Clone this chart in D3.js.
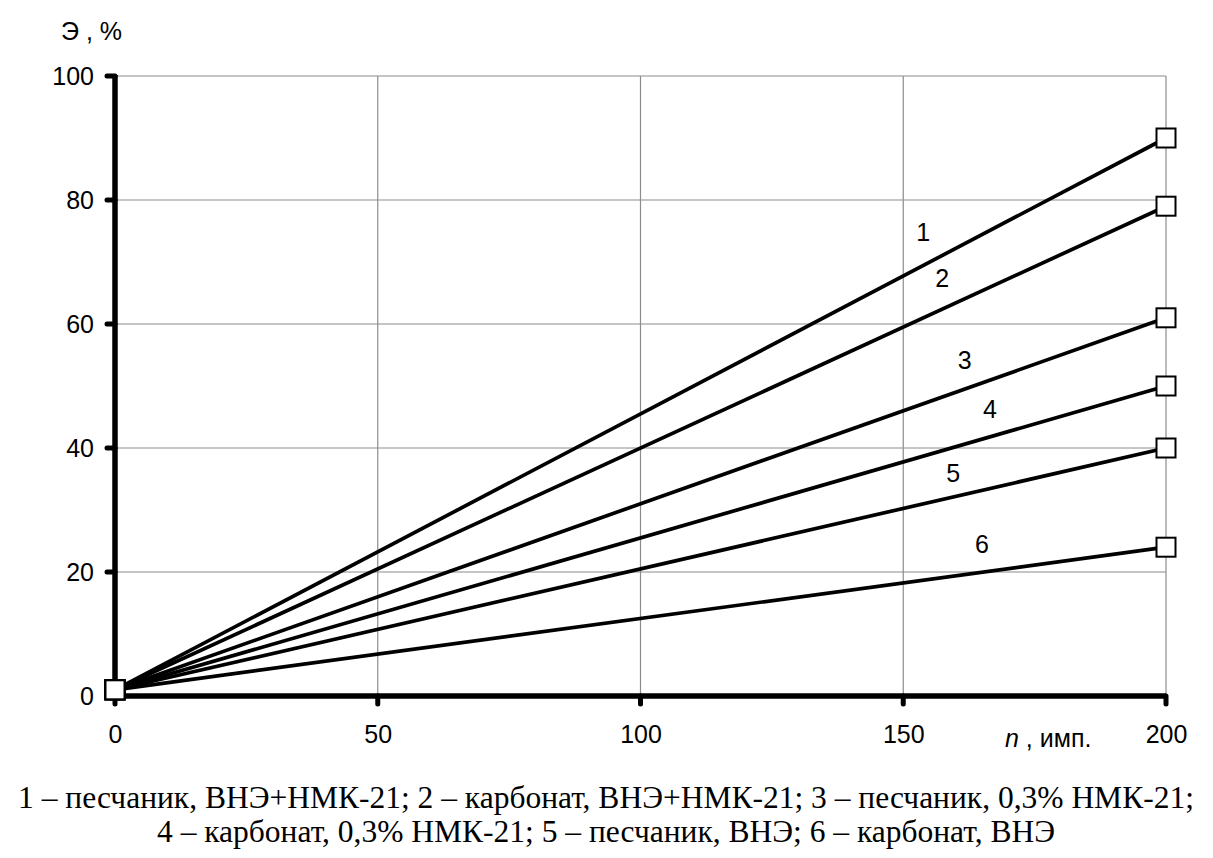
<!DOCTYPE html>
<html><head><meta charset="utf-8">
<script src="https://cdn.jsdelivr.net/npm/d3@7"></script>
<style>body{margin:0;background:#fff}svg{display:block}</style>
</head><body>
<svg id="c" width="1213" height="858"></svg>
<script>
const xTicks = [0, 50, 100, 150, 200];
const yTicks = [0, 20, 40, 60, 80, 100];
const seriesNames = ["1", "2", "3", "4", "5", "6"];
const xValues = [0, 200];
const s1 = [1, 90];
const s2 = [1, 79];
const s3 = [1, 61];
const s4 = [1, 50];
const s5 = [1, 40];
const s6 = [1, 24];
const seriesValues = [s1, s2, s3, s4, s5, s6];
// label anchor positions in data units
const labelX = [153.8, 157.4, 161.7, 166.5, 159.5, 165.0];
const labelY = [74.8, 67.4, 54.2, 46.3, 36.0, 24.4];
const caption = [
  "1 – песчаник, ВНЭ+НМК-21; 2 – карбонат, ВНЭ+НМК-21; 3 – песчаник, 0,3% НМК-21;",
  "4 – карбонат, 0,3% НМК-21; 5 – песчаник, ВНЭ; 6 – карбонат, ВНЭ"
];

const svg = d3.select("#c");
const x = d3.scaleLinear().domain([0, 200]).range([115, 1166]);
const y = d3.scaleLinear().domain([0, 100]).range([696, 76]);
const sans = "Liberation Sans, Arial, sans-serif";
const fs = "25px";

// grid
const g = svg.append("g");
g.selectAll(".gy").data(yTicks.filter(d => d > 0)).enter().append("line")
  .attr("x1", x(0)).attr("x2", x(200)).attr("y1", d => y(d)).attr("y2", d => y(d))
  .attr("stroke", "#8c8c8c").attr("stroke-width", 1.2);
g.selectAll(".gx").data(xTicks.filter(d => d > 0)).enter().append("line")
  .attr("y1", y(0)).attr("y2", y(100)).attr("x1", d => x(d)).attr("x2", d => x(d))
  .attr("stroke", "#8c8c8c").attr("stroke-width", 1.2);

// axes
const xAxis = d3.axisBottom(x).tickValues(xTicks).tickSize(0).tickPadding(0).tickFormat(d3.format("d"));
const yAxis = d3.axisLeft(y).tickValues(yTicks).tickSize(0).tickPadding(0).tickFormat(d3.format("d"));
const ax = svg.append("g").attr("transform", `translate(0,${y(0)})`).call(xAxis);
ax.select(".domain").remove();
ax.selectAll("text").attr("y", 38).attr("dy", "0.35em").style("font-family", sans).style("font-size", fs).attr("fill", "#000");
const ay = svg.append("g").attr("transform", `translate(${x(0)},0)`).call(yAxis);
ay.select(".domain").remove();
ay.selectAll("text").attr("x", -21).attr("dy", "0.35em").style("font-family", sans).style("font-size", fs).attr("fill", "#000");

// tick stubs
svg.selectAll(".tx").data(xTicks).enter().append("line")
  .attr("x1", d => x(d)).attr("x2", d => x(d)).attr("y1", y(0)).attr("y2", y(0) + 8)
  .attr("stroke", "#000").attr("stroke-width", 5).attr("stroke-linecap", "round");
svg.selectAll(".ty").data(yTicks).enter().append("line")
  .attr("y1", d => y(d)).attr("y2", d => y(d)).attr("x1", x(0)).attr("x2", x(0) - 8)
  .attr("stroke", "#000").attr("stroke-width", 5).attr("stroke-linecap", "round");

// axis lines
svg.append("line").attr("x1", x(0)).attr("x2", x(0)).attr("y1", y(100) - 1).attr("y2", y(0))
  .attr("stroke", "#000").attr("stroke-width", 5.5);
svg.append("line").attr("x1", x(0)).attr("x2", x(200)).attr("y1", y(0)).attr("y2", y(0))
  .attr("stroke", "#000").attr("stroke-width", 5.5);

// series lines
const line = d3.line().x((d, i) => x(xValues[i])).y(d => y(d));
svg.selectAll(".s").data(seriesValues).enter().append("path")
  .attr("d", d => line(d)).attr("fill", "none").attr("stroke", "#000").attr("stroke-width", 3.7);

// markers
const pts = [];
seriesValues.forEach(s => s.forEach((v, i) => pts.push([xValues[i], v])));
svg.selectAll(".m").data(pts).enter().append("rect")
  .attr("x", d => x(d[0]) - 9.5).attr("y", d => y(d[1]) - 9.5).attr("width", 19).attr("height", 19)
  .attr("fill", "#fff").attr("stroke", "#000").attr("stroke-width", 2);

// series labels
svg.selectAll(".lbl").data(seriesNames).enter().append("text")
  .attr("x", (d, i) => x(labelX[i])).attr("y", (d, i) => y(labelY[i])).attr("dy", "0.35em")
  .attr("text-anchor", "middle").style("font-family", sans).style("font-size", fs).text(d => d);

// axis titles
svg.append("text").attr("x", 61).attr("y", 31).attr("dy", "0.35em")
  .style("font-family", sans).style("font-size", fs).text("Э , %");
const nt = svg.append("text").attr("x", 1005).attr("y", 738).attr("dy", "0.35em")
  .style("font-family", sans).style("font-size", fs);
nt.append("tspan").style("font-style", "italic").text("n");
nt.append("tspan").text(" , имп.");

// caption
svg.selectAll(".cap").data(caption).enter().append("text")
  .attr("x", 606).attr("y", (d, i) => 797 + i * 34).attr("dy", "0.35em")
  .attr("text-anchor", "middle").style("font-family", "Liberation Serif, Times New Roman, serif")
  .style("font-size", "31.5px").text(d => d);
</script>
</body></html>
